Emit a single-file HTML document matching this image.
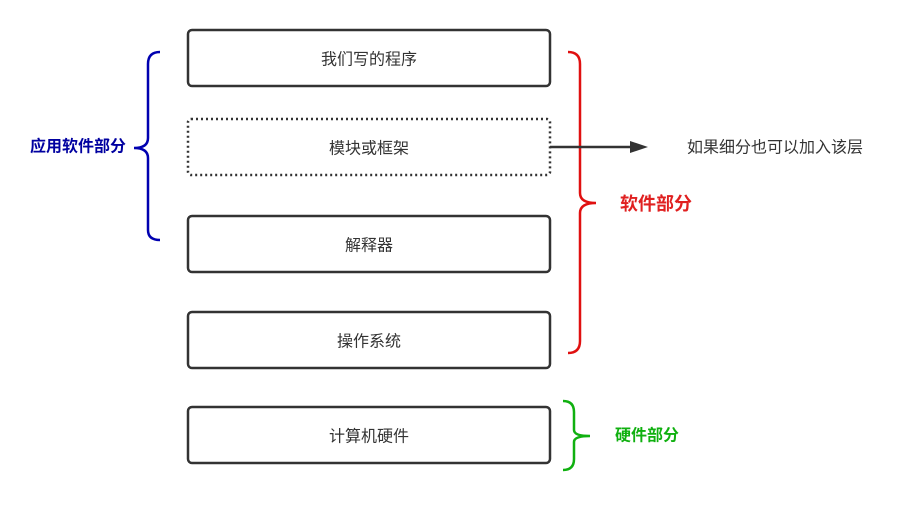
<!DOCTYPE html>
<html><head><meta charset="utf-8"><style>
body{margin:0;background:#fff;}
svg text{font-family:"Liberation Sans","Noto Sans CJK SC",sans-serif;}
</style></head><body>
<svg width="909" height="521" viewBox="0 0 909 521" xmlns="http://www.w3.org/2000/svg">
<g fill="none" stroke="#333" stroke-width="2.5">
<rect x="188" y="30" width="362" height="56" rx="4"/>
<rect x="188" y="119" width="362" height="56" rx="3" stroke-dasharray="2,3"/>
<rect x="188" y="216" width="362" height="56" rx="4"/>
<rect x="188" y="312" width="362" height="56" rx="4"/>
<rect x="188" y="407" width="362" height="56" rx="4"/>
</g>
<g font-size="16" fill="#333" text-anchor="middle" dominant-baseline="central">
<text x="369" y="60">我们写的程序</text>
<text x="369" y="149">模块或框架</text>
<text x="369" y="246">解释器</text>
<text x="369" y="342">操作系统</text>
<text x="369" y="437">计算机硬件</text>
</g>
<path d="M160 52 Q148 52 148 64 L148 138 Q148 148 134 148 Q148 148 148 158 L148 230 Q148 240 160 240" fill="none" stroke="#0000b0" stroke-width="2.5"/>
<text x="78" y="147" font-size="16" font-weight="bold" fill="#0000a0" text-anchor="middle" dominant-baseline="central">应用软件部分</text>
<path d="M568 52 Q580 52 580 64 L580 193 Q580 203 596 203 Q580 203 580 213 L580 341 Q580 353 568 353" fill="none" stroke="#e01010" stroke-width="2.5"/>
<text x="656" y="204" font-size="18" font-weight="bold" fill="#e02020" text-anchor="middle" dominant-baseline="central">软件部分</text>
<path d="M563 401 Q574 401 574 412 L574 430 Q574 436 590 436 Q574 436 574 442 L574 459 Q574 470 563 470" fill="none" stroke="#10b010" stroke-width="2.5"/>
<text x="647" y="436" font-size="16" font-weight="bold" fill="#10b010" text-anchor="middle" dominant-baseline="central">硬件部分</text>
<line x1="550" y1="147" x2="634" y2="147" stroke="#333" stroke-width="2.5"/>
<polygon points="630,141 648,147 630,153" fill="#333"/>
<text x="687" y="148" font-size="16" fill="#333" dominant-baseline="central">如果细分也可以加入该层</text>
</svg>
</body></html>
